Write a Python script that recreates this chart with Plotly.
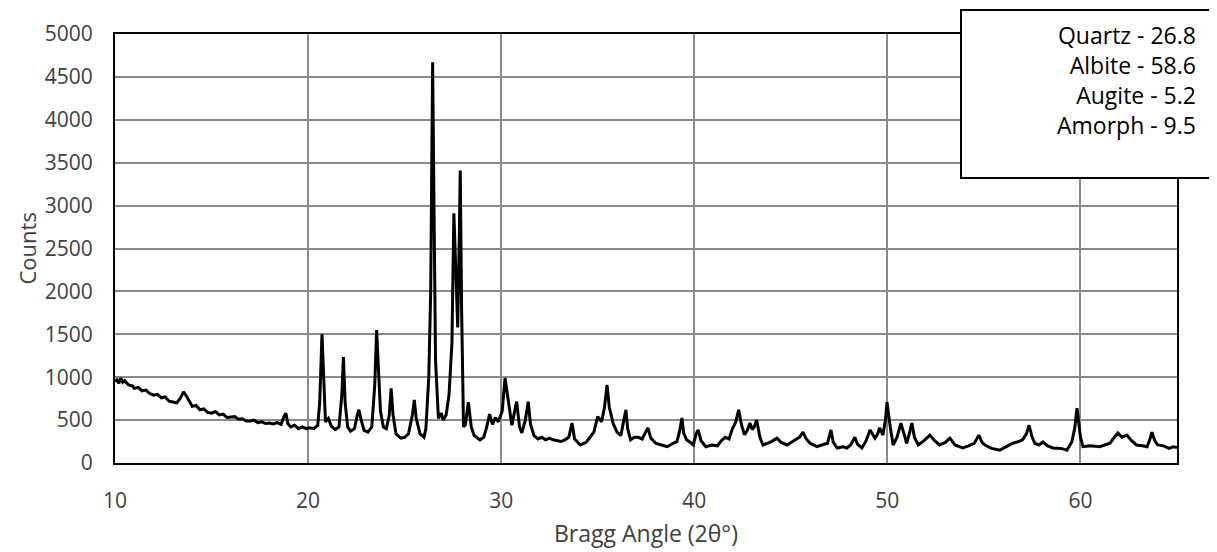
import plotly.graph_objects as go

two_theta = [
    10.0, 10.1, 10.2, 10.3, 10.4, 10.5, 10.7, 10.9, 11.0, 11.2, 11.4, 11.6, 11.8, 12.0, 12.2, 12.4, 12.6, 12.8,
    13.0, 13.2, 13.4, 13.55, 13.7, 13.9, 14.0, 14.2, 14.4, 14.6, 14.8, 15.0, 15.2, 15.4, 15.6, 15.8, 16.0, 16.2,
    16.4, 16.6, 16.8, 17.0, 17.2, 17.4, 17.6, 17.8, 18.0, 18.2, 18.4, 18.6, 18.75, 18.85, 18.95, 19.1, 19.3, 19.5,
    19.7, 19.9, 20.1, 20.3, 20.5, 20.6, 20.72, 20.8, 20.9, 21.05, 21.2, 21.4, 21.6, 21.75, 21.83, 21.92, 22.05,
    22.2, 22.4, 22.55, 22.63, 22.75, 22.9, 23.1, 23.3, 23.45, 23.55, 23.62, 23.75, 23.9, 24.05, 24.2, 24.3, 24.4,
    24.55, 24.8, 25.0, 25.2, 25.4, 25.5, 25.6, 25.8, 26.0, 26.1, 26.25, 26.35, 26.45, 26.52, 26.6, 26.75, 26.9,
    27.0, 27.15, 27.3, 27.45, 27.55, 27.65, 27.75, 27.82, 27.88, 27.95, 28.05, 28.15, 28.3, 28.45, 28.6, 28.9,
    29.1, 29.25, 29.4, 29.55, 29.7, 29.85, 30.05, 30.2, 30.3, 30.45, 30.55, 30.7, 30.8, 30.95, 31.07, 31.25, 31.4,
    31.52, 31.7, 31.9, 32.1, 32.3, 32.5, 32.7, 32.9, 33.1, 33.3, 33.5, 33.67, 33.8, 34.1, 34.4, 34.6, 34.8, 35.0,
    35.2, 35.35, 35.48, 35.6, 35.8, 36.0, 36.2, 36.35, 36.46, 36.55, 36.7, 36.9, 37.1, 37.3, 37.5, 37.6, 37.75,
    38.0, 38.3, 38.6, 38.9, 39.1, 39.25, 39.36, 39.45, 39.6, 39.8, 39.95, 40.1, 40.2, 40.35, 40.6, 40.9, 41.2,
    41.4, 41.6, 41.8, 41.95, 42.15, 42.3, 42.45, 42.6, 42.75, 42.88, 43.0, 43.1, 43.23, 43.4, 43.56, 43.8, 44.0,
    44.28, 44.5, 44.8, 45.0, 45.2, 45.45, 45.63, 45.8, 46.0, 46.35, 46.6, 46.9, 47.08, 47.2, 47.4, 47.7, 47.9,
    48.1, 48.32, 48.45, 48.68, 48.9, 49.1, 49.25, 49.36, 49.5, 49.6, 49.77, 49.9, 49.98, 50.05, 50.15, 50.3,
    50.5, 50.7, 50.85, 51.0, 51.15, 51.27, 51.4, 51.6, 51.9, 52.2, 52.45, 52.7, 53.0, 53.24, 53.5, 53.9, 54.2,
    54.5, 54.74, 54.9, 55.05, 55.4, 55.83, 56.2, 56.5, 56.8, 57.0, 57.2, 57.34, 57.5, 57.64, 57.85, 58.06, 58.3,
    58.58, 59.0, 59.3, 59.55, 59.7, 59.82, 59.92, 60.0, 60.13, 60.5, 61.0, 61.3, 61.53, 61.75, 61.94, 62.15,
    62.4, 62.65, 62.9, 63.2, 63.45, 63.6, 63.7, 63.85, 64.0, 64.3, 64.6, 64.8, 65.0,
]

counts = [
    950, 970, 930, 990, 940, 960, 910, 900, 870, 880, 840, 850, 810, 790, 800, 760, 770, 720,
    710, 700, 760, 830, 780, 690, 660, 670, 620, 630, 590, 580, 600, 560, 570, 530, 535, 540,
    510, 515, 490, 490, 500, 470, 480, 460, 465, 455, 470, 450, 540, 580, 460, 420, 440, 400,
    420, 400, 410, 400, 440, 700, 1500, 1000, 480, 520, 430, 390, 420, 800, 1235, 700, 420,
    370, 400, 560, 620, 500, 380, 360, 420, 900, 1550, 1200, 600, 420, 400, 550, 870, 560,
    340, 290, 300, 340, 560, 735, 520, 340, 300, 400, 1000, 2000, 4670, 3000, 1200, 520, 580,
    500, 560, 800, 1400, 2910, 2200, 1580, 2500, 3410, 1800, 420, 450, 710, 420, 320, 270,
    300, 420, 570, 450, 530, 480, 600, 990, 850, 600, 440, 600, 715, 420, 350, 500, 715,
    450, 320, 280, 300, 270, 290, 270, 260, 250, 270, 300, 465, 280, 210, 240, 300, 360, 540,
    480, 650, 910, 650, 460, 360, 320, 500, 620, 400, 270, 300, 300, 280, 380, 410, 290,
    230, 210, 190, 230, 250, 380, 525, 350, 270, 240, 210, 340, 385, 260, 190, 210, 200,
    260, 300, 280, 385, 480, 620, 440, 330, 380, 465, 390, 420, 500, 300, 210, 230, 250,
    290, 240, 210, 240, 260, 300, 360, 280, 230, 190, 210, 230, 385, 240, 175, 190, 175,
    210, 300, 220, 175, 260, 385, 320, 290, 340, 410, 325, 500, 710, 560, 420, 210,
    300, 465, 330, 230, 350, 465, 300, 210, 260, 325, 260, 210, 240, 290, 210, 175, 200,
    230, 325, 240, 210, 170, 150, 190, 230, 250, 270, 340, 440, 300, 230, 210, 245, 200,
    175, 170, 150, 245, 400, 640, 450, 300, 190, 200, 190, 210, 230, 300, 350, 300,
    325, 260, 210, 200, 190, 280, 360, 260, 210, 200, 170, 190, 180,
]

x_ticks = [10, 20, 30, 40, 50, 60]
y_ticks = [0, 500, 1000, 1500, 2000, 2500, 3000, 3500, 4000, 4500, 5000]

phases = ["Quartz", "Albite", "Augite", "Amorph"]
phase_pct = ["26.8", "58.6", "5.2", "9.5"]

FONT = "Open Sans"

# the page body has an 8px margin; the figure is laid out so the plot lands
# on the reference's pixels (plot area x 115..1177, y 34..463 in the window)
PAGE_OFF = 8
PLOT_L, PLOT_R, PLOT_T, PLOT_B = 115, 1177, 34, 463
PLOT_W, PLOT_H = PLOT_R - PLOT_L, PLOT_B - PLOT_T


def px_x(px):
    return (px - PLOT_L) / PLOT_W


def px_y(py):
    return (PLOT_B - py) / PLOT_H


fig = go.Figure()
fig.add_trace(go.Scatter(
    x=two_theta, y=counts, mode="lines",
    line=dict(color="black", width=3),
    showlegend=False, hoverinfo="skip",
))

axis_common = dict(
    showline=True, linecolor="black", linewidth=2, mirror=True,
    showgrid=True, gridcolor="#8a8a8a", gridwidth=2,
    zeroline=False, ticks="", tickfont=dict(family=FONT, size=21, color="#404040"),
)

fig.update_xaxes(range=[10, 65], tickvals=x_ticks, ticklabelstandoff=18, **axis_common)
fig.update_yaxes(range=[0, 5000], tickvals=y_ticks, ticklabelstandoff=16, **axis_common)

# box holding the phase composition
fig.add_shape(
    type="rect", xref="paper", yref="paper",
    x0=px_x(961), x1=px_x(1216), y0=px_y(178), y1=px_y(10),
    line=dict(color="black", width=2), fillcolor="white", layer="above",
)

fig.add_annotation(
    text="<br>".join(f"{n} - {p}" for n, p in zip(phases, phase_pct)),
    xref="paper", yref="paper", x=px_x(1198), y=px_y(80),
    xanchor="right", yanchor="middle", align="right", showarrow=False,
    font=dict(family=FONT, size=23, color="black"),
)

fig.add_annotation(
    text="Bragg Angle (2θ°)", xref="paper", yref="paper", x=0.5, y=px_y(533),
    xanchor="center", yanchor="middle", showarrow=False,
    font=dict(family=FONT, size=23, color="#404040"),
)
fig.add_annotation(
    text="Counts", xref="paper", yref="paper", x=px_x(26), y=0.5,
    xanchor="center", yanchor="middle", textangle=-90, showarrow=False,
    font=dict(family=FONT, size=22, color="#404040"),
)

W, H = 1217 - PAGE_OFF, 552 - PAGE_OFF
fig.update_layout(
    width=W, height=H,
    margin=dict(l=PLOT_L - PAGE_OFF, r=W - (PLOT_R - PAGE_OFF), t=PLOT_T - PAGE_OFF,
                b=H - (PLOT_B - PAGE_OFF), autoexpand=False),
    paper_bgcolor="white", plot_bgcolor="white",
)

fig.write_html("out.html")
